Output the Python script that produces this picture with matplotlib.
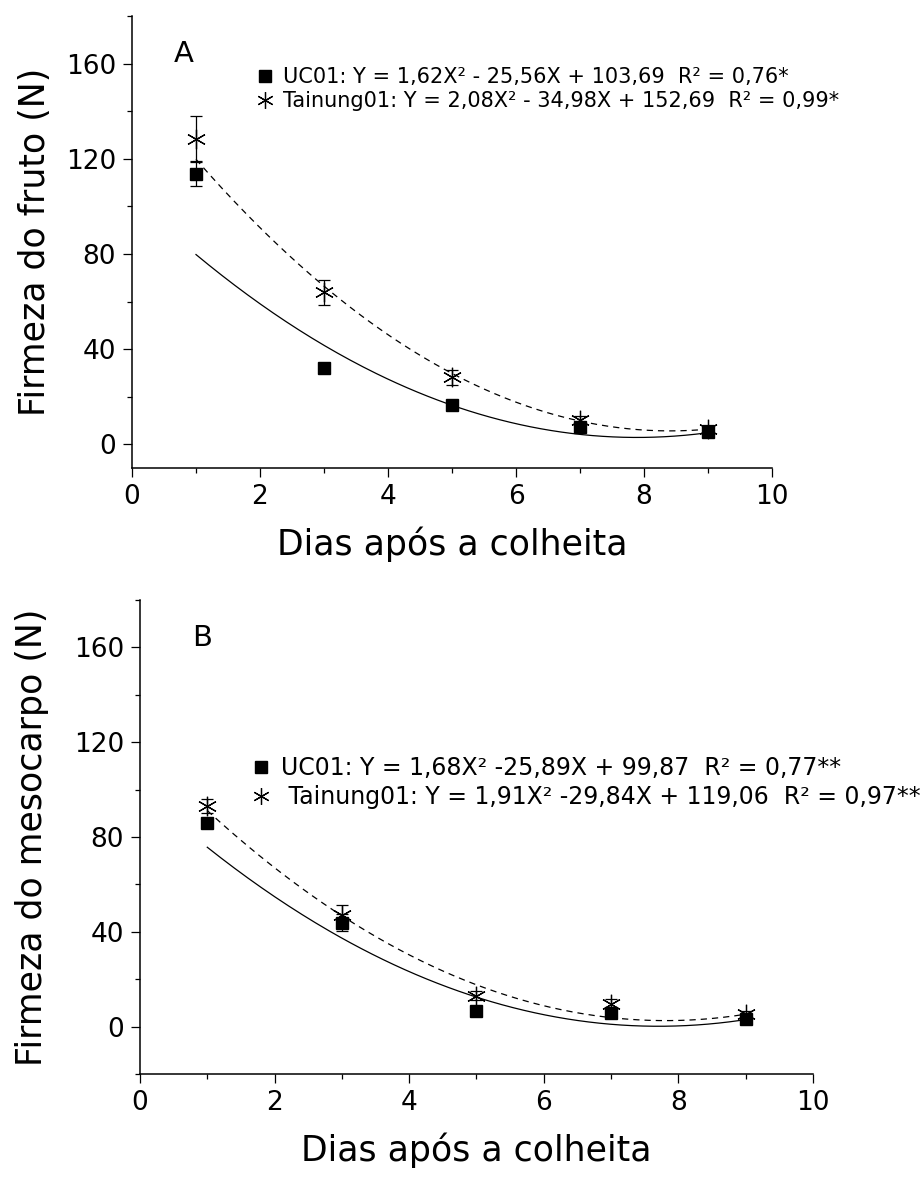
import numpy as np
import matplotlib
matplotlib.use("Agg")
import matplotlib.pyplot as plt
from matplotlib.ticker import MultipleLocator
from matplotlib.lines import Line2D

# Dados
dias = [1, 3, 5, 7, 9]

# Painel A - firmeza do fruto
a_uc01 = [113.8, 32.0, 16.5, 7.2, 5.2]
a_uc01_err = [5.3, 1.0, 1.0, 1.0, 1.0]
a_tai = [128.3, 63.9, 28.2, 10.0, 6.5]
a_tai_err = [9.7, 5.2, 3.2, 2.0, 1.5]
a_coef_uc01 = [1.62, -25.56, 103.69]
a_coef_tai = [2.08, -34.98, 152.69]
a_leg = ["UC01: Y = 1,62X² - 25,56X + 103,69  R² = 0,76*",
         "Tainung01: Y = 2,08X² - 34,98X + 152,69  R² = 0,99*"]

# Painel B - firmeza do mesocarpo
b_uc01 = [85.7, 43.8, 6.7, 5.6, 3.3]
b_uc01_err = [1.5, 3.5, 1.0, 2.0, 1.0]
b_tai = [93.0, 47.0, 13.0, 9.6, 5.4]
b_tai_err = [3.0, 4.5, 2.0, 2.0, 1.0]
b_coef_uc01 = [1.68, -25.89, 99.87]
b_coef_tai = [1.91, -29.84, 119.06]
b_leg = ["UC01: Y = 1,68X² -25,89X + 99,87  R² = 0,77**",
         " Tainung01: Y = 1,91X² -29,84X + 119,06  R² = 0,97**"]

plt.rcParams["font.family"] = ["DejaVu Sans"]

fig = plt.figure(figsize=(9.21, 11.79), dpi=100)
ax_a = fig.add_axes([0.1433, 0.603, 0.695, 0.3834])
ax_b = fig.add_axes([0.152, 0.0891, 0.7307, 0.402])

star = (6, 2, 0)
xf = np.linspace(1, 9, 200)


def painel(ax, uc, uc_err, tai, tai_err, c_uc, c_tai, ylo, letra, letra_x,
           ylabel, ypad, leg, leg_pos, leg_fs):
    ax.plot(xf, np.polyval(c_uc, xf), color="black", lw=0.9)
    ax.plot(xf, np.polyval(c_tai, xf), color="black", lw=0.9, ls=(0, (5, 4)))
    ax.errorbar(dias, uc, yerr=uc_err, fmt="s", color="black", ms=9,
                capsize=4, elinewidth=0.9, capthick=0.9)
    ax.errorbar(dias, tai, yerr=tai_err, fmt="none", ecolor="black",
                capsize=4, elinewidth=0.9, capthick=0.9)
    ax.plot(dias, tai, ls="none", marker=star, color="black", ms=14, mew=0.9)

    ax.set_xlim(0, 10)
    ax.set_ylim(ylo, 180)
    ax.xaxis.set_major_locator(MultipleLocator(2))
    ax.xaxis.set_minor_locator(MultipleLocator(1))
    ax.yaxis.set_major_locator(MultipleLocator(40))
    ax.yaxis.set_minor_locator(MultipleLocator(20))
    ax.set_yticks([0, 40, 80, 120, 160])
    ax.tick_params(which="major", length=6.5, width=0.9, labelsize=19,
                   direction="out", pad=5)
    ax.tick_params(which="minor", length=3.6, width=0.9, direction="out")
    for s in ["top", "right"]:
        ax.spines[s].set_visible(False)
    for s in ["left", "bottom"]:
        ax.spines[s].set_linewidth(1.1)
    ax.set_xlabel("Dias após a colheita", fontsize=25, labelpad=12)
    ax.set_ylabel(ylabel, fontsize=25, labelpad=ypad)
    ax.text(letra_x, 164, letra, fontsize=21, va="center")

    handles = [Line2D([], [], ls="none", marker="s", color="black", ms=8),
               Line2D([], [], ls="none", marker=star, color="black", ms=12, mew=0.9)]
    ax.legend(handles, leg, loc="upper left", bbox_to_anchor=leg_pos, frameon=False,
              fontsize=leg_fs, handletextpad=0.4, handlelength=0.9, labelspacing=0.2,
              borderaxespad=0)


painel(ax_a, a_uc01, a_uc01_err, a_tai, a_tai_err, a_coef_uc01, a_coef_tai,
       -10, "A", 0.65, "Firmeza do fruto (N)", 10, a_leg, (0.18, 0.905), 15)
painel(ax_b, b_uc01, b_uc01_err, b_tai, b_tai_err, b_coef_uc01, b_coef_tai,
       -20, "B", 0.78, "Firmeza do mesocarpo (N)", 18, b_leg, (0.15, 0.69), 17)

fig.savefig("out.png", dpi=100)
